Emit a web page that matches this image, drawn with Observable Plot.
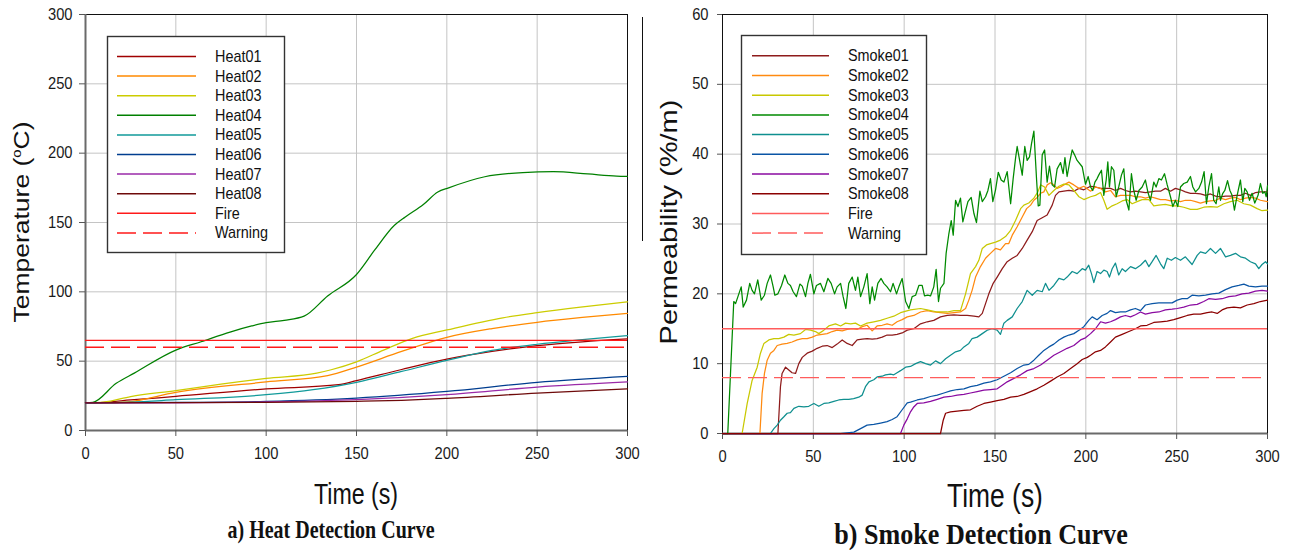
<!DOCTYPE html>
<html><head><meta charset="utf-8">
<script src="https://cdn.jsdelivr.net/npm/d3@7"></script>
<script src="https://cdn.jsdelivr.net/npm/@observablehq/plot@0.6"></script>
<style>
html,body{margin:0;padding:0;background:#fff;}
#root{position:relative;width:1295px;height:550px;overflow:hidden;background:#fff;}
#root > svg{position:absolute;top:0;}
</style></head><body><div id="root"></div>
<script>
// ---------- shared ticks ----------
const timeTicks = [0, 50, 100, 150, 200, 250, 300];
const heatTicks = [0, 50, 100, 150, 200, 250, 300];
const smokeTicks = [0, 10, 20, 30, 40, 50, 60];

// ---------- heat detectors (time s, temperature C) ----------
const heatNames = ["Heat01","Heat02","Heat03","Heat04","Heat05","Heat06","Heat07","Heat08"];
const heatColors = ["#a00000","#ff8a00","#cccc00","#008000","#119a9a","#003d8f","#9a2aa8","#6e0a0a"];
const heatRefNames = ["Fire","Warning"];
const heatRefValues = [65, 60];
const heatRefColors = ["#ff1a1a","#ff1a1a"];

const heat01 = [[0,20],[10,20.3],[25,22],[50,24.6],[100,30],[140,33],[150,36],[175,44],[200,51.4],[225,57],[250,61.2],[275,64],[300,66]];
const heat02 = [[0,20],[15,20],[23,20.6],[50,27.5],[100,35],[134,39.5],[150,45.7],[175,57],[200,67.2],[225,73.5],[250,78],[275,81.5],[300,84.5]];
const heat03 = [[0,20],[10,20.5],[25,24.5],[50,28.8],[75,33.5],[100,37.6],[128,41.4],[136,43.8],[150,49.5],[165,58],[181,66.5],[200,72.5],[231,81.3],[250,85],[274,89],[300,92.8]];
const heat04 = [[0,20],[4,20.3],[17,34],[27,41.4],[50,58],[64,64],[80,71],[92,75.4],[100,77.8],[110,79.5],[121,82.5],[134,97],[150,112.5],[160,130],[171,148],[177,154],[187,163],[195,172],[201,175],[221,183],[242,186],[259,186.6],[278,185],[294,183.5],[300,183.3]];
const heat05 = [[0,20],[25,20.5],[50,22.2],[100,25.8],[126,29.4],[150,34.7],[175,42.6],[200,50.5],[225,57.7],[250,62.2],[275,65.5],[300,68.4]];
const heat06 = [[0,20],[50,20.2],[100,21],[150,23.4],[200,28.2],[250,34.7],[300,39]];
const heat07 = [[0,20],[50,20],[100,20.6],[150,22.2],[200,25.8],[250,31.3],[300,35]];
const heat08 = [[0,20],[100,20.3],[150,21],[175,21.8],[200,23.2],[250,27],[300,30]];

// ---------- smoke detectors (time s, permeability %/m) ----------
const smokeNames = ["Smoke01","Smoke02","Smoke03","Smoke04","Smoke05","Smoke06","Smoke07","Smoke08"];
const smokeColors = ["#8e1b1b","#ff8a10","#c8c800","#008a00","#0f8f8f","#0a55a5","#8a0aa0","#8b0000"];
const smokeRefNames = ["Fire","Warning"];
const smokeRefValues = [15, 8];
const smokeRefColors = ["#ff5c5c","#ff5c5c"];

const smoke01 = [[0,0],[30.5,0],[31.9,6.7],[32.8,8.6],[34.7,9.5],[36.5,9.1],[38.3,8.7],[40.2,8.6],[42.0,10.0],[43.9,10.9],[46.6,11.5],[49.4,11.8],[52.1,12.2],[54.9,12.5],[57.6,12.6],[60.4,12.3],[63.1,12.8],[65.9,13.4],[68.6,12.9],[71.4,12.6],[74.1,13.4],[76.9,13.5],[79.6,13.6],[82.4,13.5],[85.1,13.6],[87.9,13.8],[90.6,14.1],[93.4,14.1],[96.1,14.2],[98.9,14.4],[101.7,14.8],[105.3,15.0],[109.0,15.7],[112.7,16.0],[116.3,16.2],[120.0,16.7],[123.7,16.9],[127.4,17.0],[131.0,16.9],[134.7,16.9],[138.4,16.8],[141.1,16.7],[143.0,17.2],[144.8,18.6],[146.6,20.0],[149.0,21.5],[151.2,22.4],[154.0,23.6],[156.7,24.6],[159.5,25.1],[162.2,25.5],[165.0,26.5],[167.7,27.7],[170.5,28.9],[173.2,30.5],[176.0,30.9],[178.7,31.3],[181.5,32.7],[183.3,34.1],[185.2,34.6],[187.9,34.7],[190.7,34.8],[193.4,34.7],[196.2,35.1],[198.9,34.9],[202.6,35.4],[205.3,35.3],[208.1,35.1],[210.8,35.1],[213.6,35.1],[216.3,34.8],[219.1,35.1],[221.8,34.8],[224.6,34.6],[227.3,34.7],[230.1,34.6],[232.8,34.5],[235.6,34.6],[238.3,34.7],[241.1,34.7],[243.8,35.1],[246.6,34.7],[249.3,35.1],[252.1,34.9],[254.8,34.6],[257.6,34.4],[260.4,34.4],[263.1,34.3],[265.9,34.1],[268.6,34.3],[271.4,34.0],[274.1,33.9],[276.9,34.0],[279.6,34.0],[282.4,34.1],[285.1,34.1],[287.9,34.4],[290.6,34.1],[293.4,34.5],[296.1,34.6],[300,34.6]];
const smoke02 = [[0,0],[20.6,0],[21.8,5.7],[23.1,8.6],[24.6,10.5],[26.4,11.5],[28.3,11.9],[30.1,12.6],[32.8,12.8],[35.6,12.9],[38.3,13.1],[41.1,13.4],[43.9,13.6],[46.6,13.6],[49.4,13.8],[52.1,14.1],[54.9,14.2],[57.6,14.3],[60.4,14.6],[63.1,14.8],[65.9,14.7],[68.6,14.9],[71.4,15.0],[74.1,14.9],[76.9,15.3],[79.6,15.5],[82.4,14.7],[85.1,15.4],[87.9,15.5],[90.6,15.7],[93.4,15.5],[96.1,16.0],[98.9,16.3],[101.7,16.7],[105.3,16.9],[109.0,17.4],[112.7,17.6],[116.3,17.4],[120.0,17.3],[123.7,17.2],[127.4,17.3],[131.0,17.4],[133.8,17.9],[135.6,19.1],[137.4,20.5],[139.3,22.4],[142.0,23.9],[144.8,25.1],[147.5,25.8],[150.3,26.5],[153.0,26.3],[155.8,27.2],[157.6,27.2],[159.5,28.4],[162.2,29.6],[165.0,31.0],[167.4,32.2],[169.6,32.7],[171.4,33.4],[173.2,33.8],[175.1,34.4],[176.9,34.6],[178.7,35.6],[180.6,35.9],[182.4,35.6],[184.2,35.1],[186.1,35.3],[187.9,35.6],[190.7,36.0],[193.4,35.6],[196.2,35.1],[198.9,35.4],[202.6,34.7],[205.3,35.3],[208.1,35.1],[210.8,34.6],[213.6,34.8],[216.3,33.9],[219.1,34.1],[221.8,34.1],[224.6,34.1],[227.3,33.9],[230.1,33.9],[232.8,33.7],[235.6,33.9],[238.3,33.7],[241.1,33.5],[243.8,33.5],[246.6,33.3],[249.3,33.4],[252.1,33.2],[254.8,33.4],[257.6,33.4],[260.4,33.2],[263.1,33.0],[265.9,33.2],[268.6,33.3],[271.4,33.4],[274.1,33.7],[276.9,33.5],[279.6,33.7],[282.4,33.8],[285.1,33.5],[287.9,33.7],[290.6,33.8],[293.4,33.7],[296.1,33.4],[300,33.2]];
const smoke03 = [[0,0],[10.8,0],[13.6,4.3],[16.3,7.6],[19.1,9.5],[20.9,11.5],[22.8,12.9],[25.5,13.4],[28.3,13.6],[31.0,13.6],[33.8,13.8],[36.5,14.2],[39.3,14.1],[42.9,14.3],[45.7,14.9],[48.4,14.8],[51.2,14.6],[53.0,14.3],[55.8,14.8],[58.5,15.4],[62.2,15.7],[65.0,15.4],[67.7,15.8],[70.5,15.7],[73.2,15.8],[76.0,15.4],[79.6,15.8],[83.3,16.0],[87.0,16.2],[90.6,16.5],[94.3,16.8],[98.0,17.3],[103.5,17.7],[109.0,17.9],[112.7,17.7],[118.2,17.4],[123.7,17.4],[127.4,17.6],[131.0,17.6],[133.8,20.0],[136.5,22.9],[139.3,23.9],[141.1,24.8],[143.0,26.5],[145.3,27.0],[147.5,27.2],[150.3,27.4],[153.0,27.7],[155.8,28.2],[158.6,29.1],[161.3,30.5],[164.1,32.2],[165.9,32.7],[168.6,33.0],[171.4,33.7],[173.6,34.6],[175.1,35.6],[177.3,35.3],[179.7,34.1],[182.4,34.8],[185.2,35.4],[187.9,35.7],[190.7,35.6],[193.4,34.8],[196.2,33.9],[198.9,33.5],[202.6,33.9],[205.3,34.1],[208.1,34.5],[209.9,33.4],[211.7,32.1],[214.5,32.6],[217.2,32.9],[220.0,33.3],[222.7,33.5],[225.5,32.9],[228.2,33.2],[231.0,33.5],[234.7,33.5],[237.4,32.6],[240.2,32.7],[243.8,32.8],[247.5,32.6],[250.3,32.6],[253.9,32.4],[257.6,32.1],[261.3,32.1],[264.9,32.4],[268.6,32.5],[272.3,32.4],[276.0,32.9],[279.6,33.2],[283.3,33.4],[287.0,32.9],[290.6,32.7],[294.3,32.2],[297.0,31.9],[300,32.0]];
const smoke04 = [[0,0],[2.9,0],[6.2,18.9],[7.2,18.6],[9.0,20.0],[10.3,21.0],[11.4,18.1],[13.2,19.1],[15.0,21.5],[16.3,20.5],[17.6,20.0],[19.4,22.0],[21.3,19.1],[23.1,19.8],[24.6,21.5],[26.4,22.7],[27.9,21.0],[28.8,19.8],[30.5,20.0],[32.5,21.2],[34.3,22.7],[36.0,21.5],[37.4,21.2],[38.9,20.3],[40.7,19.6],[42.6,21.4],[43.9,21.1],[45.7,19.6],[47.0,21.5],[48.4,22.8],[50.3,20.0],[51.7,21.2],[53.9,21.5],[55.8,20.3],[58.0,22.2],[59.8,21.5],[61.7,20.0],[63.1,21.0],[65.0,21.5],[66.4,19.6],[67.9,17.9],[69.5,21.5],[71.4,22.4],[73.2,20.5],[74.5,22.4],[76.0,19.6],[77.8,21.0],[79.6,22.9],[81.1,18.6],[82.4,21.0],[83.7,19.1],[85.5,21.5],[87.3,22.2],[88.8,21.5],[90.6,21.0],[92.5,20.3],[93.9,21.5],[95.8,20.0],[97.1,21.0],[98.9,22.2],[100.8,18.9],[102.6,17.9],[104.4,19.6],[106.3,19.8],[108.1,21.2],[109.9,21.2],[111.2,19.7],[113.0,19.8],[114.5,19.7],[116.3,21.0],[117.6,23.5],[118.9,18.9],[120.0,20.8],[121.9,21.5],[123.1,25.8],[124.6,28.6],[125.9,30.5],[127.0,28.4],[128.3,33.4],[129.6,32.5],[131.0,33.7],[132.3,30.3],[133.4,31.5],[135.1,33.2],[136.9,33.8],[138.4,31.5],[139.8,30.2],[141.7,34.7],[143.0,33.2],[144.8,33.9],[146.1,34.8],[147.5,36.5],[148.8,33.2],[150.3,34.9],[151.8,37.4],[153.4,36.3],[154.9,36.0],[156.7,37.5],[158.6,32.9],[160.0,36.5],[161.3,39.4],[162.2,41.1],[163.7,38.9],[165.0,37.0],[166.4,41.1],[167.7,39.1],[169.0,39.6],[170.1,41.5],[171.4,43.3],[172.9,36.3],[173.8,32.6],[174.7,32.7],[176.0,39.9],[177.3,40.6],[178.7,36.0],[180.0,38.3],[181.5,35.6],[182.8,35.3],[184.2,37.9],[186.1,38.8],[187.5,37.2],[188.5,39.5],[189.7,36.8],[191.0,38.7],[192.5,40.6],[193.8,39.9],[195.2,39.1],[198.0,38.2],[199.8,35.7],[201.3,36.8],[202.6,35.3],[203.8,34.8],[205.0,36.0],[206.2,36.5],[207.1,37.0],[208.6,37.7],[209.9,34.1],[211.2,36.3],[212.1,38.9],[213.0,35.3],[214.1,38.2],[215.4,37.7],[216.7,33.9],[218.1,35.3],[219.6,37.0],[220.9,37.9],[222.2,33.4],[223.7,32.0],[225.1,37.2],[226.4,34.8],[227.7,33.4],[229.2,34.8],[231.0,35.3],[232.8,36.3],[234.3,34.4],[235.6,33.4],[237.4,36.0],[238.7,35.3],[240.2,36.5],[241.6,36.3],[243.3,37.2],[244.8,35.6],[246.6,33.9],[247.9,32.5],[249.3,33.4],[250.6,32.5],[252.1,35.3],[253.9,35.8],[255.8,36.0],[257.6,36.8],[258.9,35.3],[260.4,34.6],[262.2,35.1],[263.7,36.0],[265.1,37.5],[266.4,32.9],[267.7,35.3],[269.2,37.2],[270.4,33.4],[271.7,32.9],[273.2,35.3],[274.1,33.4],[275.4,34.4],[276.5,34.8],[278.0,36.2],[279.3,34.8],[280.5,34.1],[281.8,32.0],[283.3,34.1],[285.1,36.3],[286.4,33.2],[287.5,35.1],[288.8,34.6],[290.1,33.4],[291.5,34.4],[293.0,33.0],[294.8,34.1],[296.1,35.8],[297.4,34.4],[298.5,34.6],[299.3,33.9],[300,35.5]];
const smoke05 = [[0,0],[26.4,0],[28.3,0.7],[30.1,1.2],[31.9,1.9],[33.8,2.4],[35.6,2.9],[37.4,3.0],[39.3,3.6],[42.0,3.9],[44.8,3.8],[47.5,3.9],[50.3,4.3],[53.0,3.9],[55.8,4.3],[58.5,4.4],[61.3,4.6],[64.0,4.8],[66.8,4.9],[69.5,4.9],[72.2,5.0],[75.0,5.2],[76.9,5.5],[78.7,6.7],[80.6,7.4],[83.3,7.7],[85.1,8.1],[87.9,8.2],[89.7,8.4],[92.5,8.5],[94.3,8.4],[96.1,8.7],[98.0,9.0],[100.8,9.5],[103.5,9.6],[106.3,10.0],[109.0,10.3],[111.8,10.0],[114.5,9.8],[117.3,10.4],[120.0,10.0],[122.8,10.7],[125.5,11.2],[128.3,11.7],[131.0,11.9],[132.9,12.4],[135.6,12.9],[137.4,13.6],[140.2,13.8],[143.0,14.3],[145.7,14.8],[148.5,15.0],[151.2,14.8],[153.0,14.2],[154.9,15.8],[156.7,16.2],[159.5,16.7],[162.2,17.9],[165.0,18.9],[167.7,20.5],[170.5,19.8],[173.2,20.5],[176.0,20.3],[177.8,21.5],[179.7,20.5],[182.4,21.2],[185.2,22.2],[187.9,22.0],[189.7,22.4],[192.5,23.2],[195.2,22.9],[198.0,23.6],[199.8,23.4],[201.6,24.1],[203.1,22.9],[204.4,21.6],[206.2,23.2],[208.1,22.9],[209.9,23.4],[211.7,23.2],[213.0,22.4],[214.5,23.6],[216.3,24.4],[218.1,22.7],[220.0,23.6],[221.8,23.2],[224.6,23.9],[227.3,23.6],[230.1,24.1],[232.8,24.8],[234.7,23.9],[236.5,24.6],[238.7,25.5],[241.1,24.3],[242.9,23.6],[244.8,25.1],[247.1,24.8],[249.3,25.2],[252.1,24.8],[254.8,25.3],[258.5,24.2],[261.3,25.5],[263.1,26.0],[265.9,25.8],[268.6,26.5],[271.4,25.8],[274.1,26.5],[276.9,25.3],[279.6,25.5],[282.4,25.8],[285.1,25.3],[287.9,25.1],[290.6,24.6],[293.4,24.3],[295.2,23.6],[297.0,24.2],[298.9,24.6],[300,24.3]];
const smoke06 = [[0,0],[65,0],[72.3,0.2],[76.0,0.7],[79.6,1.2],[83.3,1.3],[87.0,1.5],[90.6,1.7],[93.4,2.0],[96.1,2.4],[98.9,3.4],[101.7,4.4],[103.5,4.5],[107.2,4.8],[110.8,5.0],[114.5,5.3],[118.2,5.5],[121.9,5.8],[125.5,6.1],[129.2,6.3],[132.9,6.4],[136.5,6.7],[140.2,6.9],[143.9,7.2],[147.5,7.4],[151.2,7.7],[154.9,8.2],[158.6,8.7],[162.2,9.3],[165.9,9.8],[168.6,9.9],[171.4,10.5],[174.1,11.2],[176.9,11.9],[179.7,12.4],[182.4,12.8],[185.2,13.4],[187.9,13.8],[190.7,14.1],[193.4,14.3],[196.2,14.8],[198.9,15.3],[201.6,16.2],[203.5,16.7],[206.2,16.3],[209.0,16.9],[211.7,17.2],[213.6,17.6],[216.3,17.3],[219.1,17.4],[221.8,17.4],[224.6,17.7],[227.3,17.9],[230.1,17.6],[232.8,18.4],[236.5,18.6],[240.2,18.7],[243.8,18.7],[247.5,18.7],[250.3,19.1],[253.0,19.3],[255.8,19.3],[258.5,19.8],[262.2,19.7],[265.9,19.8],[269.5,20.0],[273.2,20.1],[276.9,20.6],[280.5,21.0],[284.2,21.2],[287.0,21.4],[289.7,21.1],[293.4,21.0],[297.0,21.1],[300,21.1]];
const smoke07 = [[0,0],[98,0],[99.8,1.2],[101.7,2.1],[103.5,3.1],[105.3,3.8],[107.2,4.3],[110.8,4.4],[114.5,4.6],[118.2,4.9],[121.9,5.2],[125.5,5.3],[129.2,5.5],[132.9,5.6],[136.5,5.8],[140.2,6.0],[143.9,6.2],[147.5,6.3],[151.2,6.4],[154.0,6.9],[156.7,7.4],[160.4,7.9],[164.1,8.4],[167.7,9.0],[171.4,9.3],[175.1,9.8],[178.7,10.5],[182.4,11.2],[186.1,11.7],[189.7,12.2],[193.4,12.6],[197.1,13.4],[199.8,13.7],[202.6,14.3],[205.3,15.0],[208.1,16.0],[210.8,15.8],[213.6,16.0],[216.3,16.3],[219.1,16.7],[221.8,16.9],[224.6,16.7],[227.3,17.0],[230.1,17.4],[232.8,17.1],[236.5,17.3],[240.2,17.4],[243.8,17.7],[247.5,17.8],[250.3,17.9],[253.9,18.1],[257.6,18.4],[261.3,18.5],[264.9,18.9],[267.7,19.3],[271.4,19.2],[275.0,19.3],[278.7,19.6],[282.4,19.7],[286.0,20.0],[289.7,20.1],[293.4,20.4],[297.0,20.5],[300,20.4]];
const smoke08 = [[0,0],[120,0],[121.5,1.9],[122.8,2.9],[125.5,3.1],[129.2,3.2],[132.9,3.3],[136.5,3.4],[140.2,3.9],[143.9,4.3],[147.5,4.5],[151.2,4.7],[154.9,4.9],[158.6,5.2],[162.2,5.3],[165.9,5.6],[169.6,6.0],[173.2,6.4],[176.9,6.9],[180.6,7.5],[184.2,8.1],[187.9,8.6],[191.6,9.3],[195.2,10.0],[198.0,10.6],[200.8,10.9],[202.6,11.2],[205.3,11.7],[208.1,11.9],[210.8,12.4],[213.6,13.1],[216.3,13.8],[220.0,14.2],[223.7,14.6],[227.3,15.0],[230.1,15.4],[233.7,15.5],[237.4,15.9],[241.1,16.0],[244.8,16.1],[248.4,16.3],[252.1,16.6],[255.8,16.9],[259.4,17.1],[263.1,17.1],[266.8,17.3],[269.5,17.4],[272.3,17.2],[275.0,17.7],[277.8,18.0],[281.5,18.1],[285.1,18.0],[288.8,18.4],[292.5,18.6],[296.1,18.9],[300,19.1]];

// ---------- texts ----------
const heatTitle = "a) Heat Detection Curve";
const smokeTitle = "b) Smoke Detection Curve";
const timeLabel = "Time (s)";
const smokeYLabel = "Permeability (%/m)";

// ---------- build ----------
const FONT = '"Liberation Sans", Arial, sans-serif';
const heatSeries = [heat01,heat02,heat03,heat04,heat05,heat06,heat07,heat08];
const smokeSeries = [smoke01,smoke02,smoke03,smoke04,smoke05,smoke06,smoke07,smoke08];
const heatRows = heatSeries.flatMap((s,i) => s.map(([t,v]) => ({t, v, name: heatNames[i]})));
const smokeRows = smokeSeries.flatMap((s,i) => s.map(([t,v]) => ({t, v, name: smokeNames[i]})));

function panel(cfg) {
  return Plot.plot({
    width: cfg.width, height: 470,
    marginLeft: cfg.ml, marginRight: cfg.mr, marginTop: 14, marginBottom: cfg.mb,
    style: {fontFamily: FONT, fontSize: "16px", color: "#1a1a1a", background: "transparent", overflow: "visible"},
    x: {domain: [0, 300]},
    y: {domain: cfg.yDomain},
    color: {domain: cfg.names, range: cfg.colors},
    marks: [
      Plot.gridX(timeTicks.slice(1, -1), {stroke: "#c4c4c4", strokeOpacity: 1}),
      Plot.gridY(cfg.yTicks.slice(1, -1), {stroke: "#c4c4c4", strokeOpacity: 1}),
      Plot.frame({stroke: "#111", strokeWidth: 1}),
      Plot.ruleX([0], {stroke: cfg.leftAxis, strokeWidth: cfg.leftAxisW}),
      Plot.ruleY([0], {stroke: "#6a6a6a", strokeWidth: 2}),
      Plot.axisX(timeTicks, {tickSize: 6, tickPadding: cfg.xPad, label: null, stroke: "#555", fill: "#1a1a1a"}),
      Plot.axisY(cfg.yTicks, {tickSize: cfg.ytick, tickPadding: cfg.yPad, label: null, stroke: "#555", fill: "#1a1a1a"}),
      Plot.line(cfg.rows, {x: "t", y: "v", z: "name", stroke: "name", strokeWidth: 1.25, curve: cfg.curve}),
      Plot.ruleY([cfg.refValues[0]], {stroke: cfg.refColors[0], strokeWidth: 1.4}),
      Plot.ruleY([cfg.refValues[1]], {stroke: cfg.refColors[1], strokeWidth: 1.4, strokeDasharray: "19,7"})
    ]
  });
}

// narrow the tick labels slightly, keeping each label's own anchor point
function condense(svg, k) {
  svg.querySelectorAll('[aria-label$="tick label"] text').forEach(t => {
    const tr = t.getAttribute("transform");
    if (tr) t.setAttribute("transform", `${tr} scale(${k},1)`);
  });
}

const root = document.getElementById("root");

const left = panel({width: 640, ml: 85, mr: 13, mb: 40, yDomain: [0, 300], yTicks: heatTicks,
  names: heatNames, colors: heatColors, rows: heatRows, curve: "monotone-x",
  refValues: heatRefValues, refColors: heatRefColors, leftAxis: "#6a6a6a", leftAxisW: 2,
  xPad: 11, ytick: 6, yPad: 7});
left.style.left = "0px";
condense(left, 0.92);
root.appendChild(left);

const right = panel({width: 655, ml: 82, mr: 28, mb: 37, yDomain: [0, 60], yTicks: smokeTicks,
  names: smokeNames, colors: smokeColors, rows: smokeRows, curve: "linear",
  refValues: smokeRefValues, refColors: smokeRefColors, leftAxis: "#111", leftAxisW: 1,
  xPad: 11, ytick: 5, yPad: 9});
right.style.left = "640px";
condense(right, 0.92);
root.appendChild(right);

// ---------- overlay: legends, titles ----------
const ov = d3.create("svg").attr("width", 1295).attr("height", 550)
  .style("left", "0px").style("pointer-events", "none").style("font-family", FONT);

function legend(box, names, colors, refNames, refColors) {
  const g = ov.append("g");
  g.append("rect").attr("x", box.x).attr("y", box.y).attr("width", box.w).attr("height", box.h)
    .attr("fill", "#fff").attr("stroke", "#333").attr("stroke-width", 1.4);
  const items = names.map((n, i) => ({n, c: colors[i], dash: null}))
    .concat(refNames.map((n, i) => ({n, c: refColors[i], dash: i === 1 ? "19,7" : null})));
  items.forEach((it, i) => {
    const y = box.row0 + i * box.step;
    g.append("line").attr("x1", box.lx1).attr("x2", box.lx2).attr("y1", y).attr("y2", y)
      .attr("stroke", it.c).attr("stroke-width", 1.5).attr("stroke-dasharray", it.dash);
    g.append("text").attr("transform", `translate(${box.tx},${y + 5.5}) scale(0.9,1)`)
      .attr("font-size", 16).attr("fill", "#111").text(it.n);
  });
}
legend({x: 107.5, y: 36.5, w: 177, h: 216, row0: 56.5, step: 19.6, lx1: 117, lx2: 196, tx: 215},
  heatNames, heatColors, heatRefNames, heatRefColors);
legend({x: 741.5, y: 35.5, w: 185, h: 219, row0: 55.8, step: 19.7, lx1: 752, lx2: 829, tx: 848},
  smokeNames, smokeColors, smokeRefNames, smokeRefColors);

// y-axis titles
const ty = ov.append("text").attr("transform", "translate(29,222) rotate(-90) scale(1,0.85)")
  .attr("text-anchor", "middle").attr("font-size", 26.5).attr("fill", "#111");
ty.append("tspan").text("Temperature (");
ty.append("tspan").attr("font-size", 15).attr("dy", -10).text("o");
ty.append("tspan").attr("dy", 10).text("C)");
ov.append("text").attr("transform", "translate(677,222) rotate(-90) scale(1,0.85)")
  .attr("text-anchor", "middle").attr("font-size", 29).attr("fill", "#111").text(smokeYLabel);

// x-axis titles
ov.append("text").attr("transform", "translate(356,504) scale(0.8,1)")
  .attr("text-anchor", "middle").attr("font-size", 29).attr("fill", "#111").text(timeLabel);
ov.append("text").attr("transform", "translate(995,507) scale(0.8,1)")
  .attr("text-anchor", "middle").attr("font-size", 33).attr("fill", "#111").text(timeLabel);

// captions
ov.append("text").attr("transform", "translate(331,538) scale(0.8,1)")
  .attr("text-anchor", "middle").attr("font-size", 25).attr("font-weight", "bold")
  .attr("font-family", '"Liberation Serif", "Times New Roman", serif').attr("fill", "#111").text(heatTitle);
ov.append("text").attr("transform", "translate(981,544) scale(0.9,1)")
  .attr("text-anchor", "middle").attr("font-size", 29).attr("font-weight", "bold")
  .attr("font-family", '"Liberation Serif", "Times New Roman", serif').attr("fill", "#111").text(smokeTitle);

// stray separator line seen in the original figure
ov.append("line").attr("x1", 642.5).attr("x2", 642.5).attr("y1", 17).attr("y2", 241)
  .attr("stroke", "#111").attr("stroke-width", 1);

root.appendChild(ov.node());
</script></body></html>
